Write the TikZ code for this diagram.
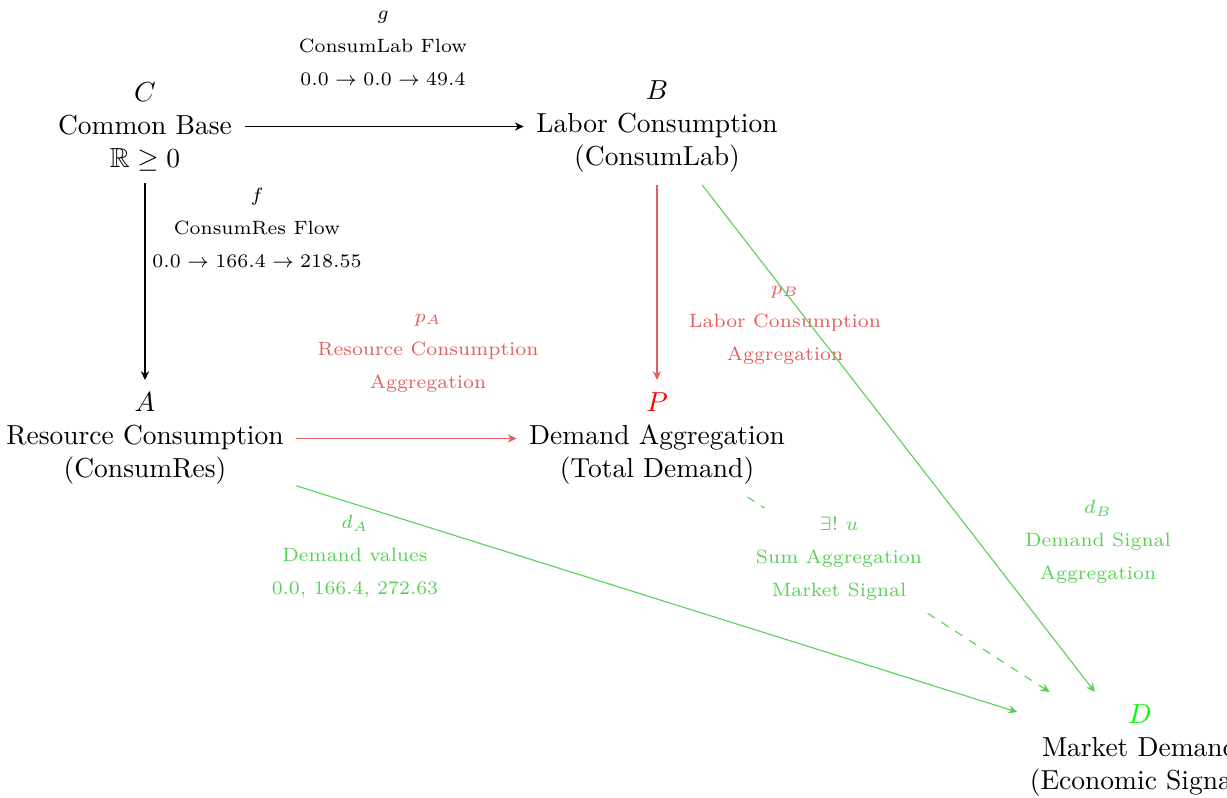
\documentclass[tikz,border=0pt]{standalone}
\usepackage{amssymb}
\usetikzlibrary{arrows.meta}
\definecolor{lred}{RGB}{225,95,95}
\definecolor{lgreen}{RGB}{88,208,88}
\begin{document}
\begin{tikzpicture}[x=0.363636pt,y=-0.363636pt,
  obj/.style={align=center, inner sep=4.4pt, font=\fontsize{10}{12}\selectfont},
  lab/.style={align=center, font=\fontsize{7}{12}\selectfont, inner sep=3.33pt},
  arr/.style={-{Stealth[length=3.2pt,width=3pt]}, line width=0.4pt},
]
\useasboundingbox (0,0) rectangle (1227,798);
\node[obj] (C) at (145,126.5) {$C$\\Common Base\\$\mathbb{R}\geq 0$};
\node[obj] (B) at (657,126.5) {$B$\\Labor Consumption\\(ConsumLab)};
\node[obj] (A) at (145,438.5) {$A$\\Resource Consumption\\(ConsumRes)};
\node[obj] (P) at (657,438.5) {\textcolor{red}{$P$}\\Demand Aggregation\\(Total Demand)};
\node[obj] (D) at (1140,750.5) {\textcolor{green}{$D$}\\Market Demand\\(Economic Signal)};

\node[lab] (lg) at (383,48.5) {$g$\\ConsumLab Flow\\$0.0 \to 0.0 \to 49.4$};
\node[lab] (lf) at (257,227.5) {$f$\\ConsumRes Flow\\$0.0 \to 166.4 \to 218.55$};
\node[lab, text=lred] (lpB) at (785,325) {$p_B$\\Labor Consumption\\Aggregation};
\node[lab, text=lred] (lpA) at (428,353) {$p_A$\\Resource Consumption\\Aggregation};
\node[lab, text=lgreen] (ldA) at (355,557) {$d_A$\\Demand values\\0.0, 166.4, 272.63};
\node[lab, text=lgreen] (ldB) at (1098,542) {$d_B$\\Demand Signal\\Aggregation};

\draw[arr] (C) -- (B);
\draw[arr] (C) -- (A);
\draw[arr, lred] (B) -- (P);
\draw[arr, lred] (A) -- (P);
\draw[arr, lgreen] (A) -- (D);
\draw[arr, lgreen] (B) -- (D);
\draw[arr, lgreen, dashed] (P) -- (D);

\node[lab, text=lgreen, fill=white] (lu) at (839,559) {$\exists!\ u$\\Sum Aggregation\\Market Signal};
\end{tikzpicture}
\end{document}
